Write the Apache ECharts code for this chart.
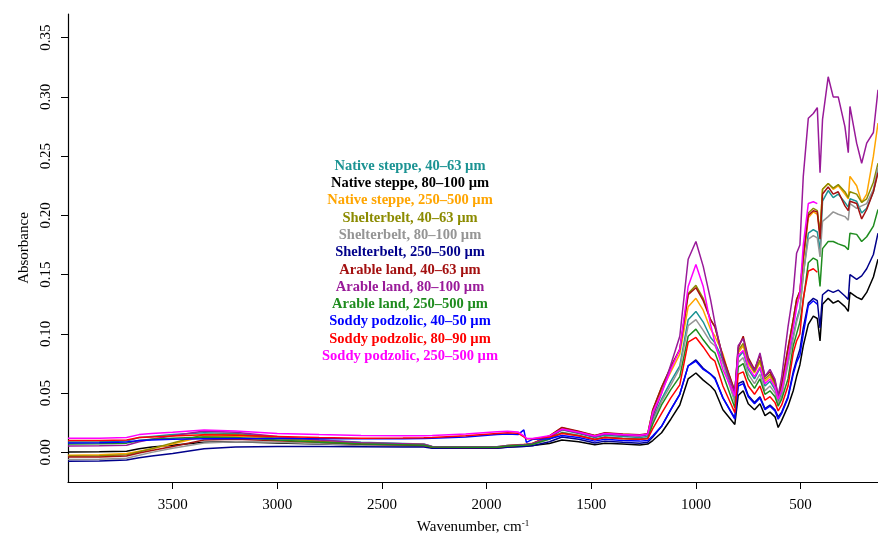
<!DOCTYPE html>
<html>
<head>
<meta charset="utf-8">
<script src="https://cdn.jsdelivr.net/npm/echarts@6/dist/echarts.min.js"></script>
<style>
  html, body { margin: 0; padding: 0; background: #fff; }
  #chart { width: 878px; height: 540px; }
</style>
</head>
<body>
<div id="chart"></div>
<script>
// Shared wavenumber grid (cm-1), high to low
const wavenumbers = [
  4000, 3850, 3720, 3660, 3600, 3500, 3350, 3200, 3000, 2800, 2600, 2400, 2300, 2260, 2100,
  1950, 1900, 1850, 1822, 1810, 1780, 1700, 1640, 1560, 1483, 1435, 1350, 1268, 1230,
  1206, 1164, 1120, 1077, 1037, 1000, 965, 930, 909, 871, 814, 798, 774, 750,
  720, 694, 670, 646, 622, 607, 590, 560, 535, 519, 503, 487, 463, 439, 420,
  407, 395, 368, 344, 320, 288, 272, 264, 232, 208, 184, 152, 130
];

// Absorbance per sample (soddy podzolic spectra stop at 420 cm-1)
const nativeSteppe40 = [
  0.0088, 0.0090, 0.0095, 0.0125, 0.0135, 0.0150, 0.0166, 0.0160, 0.0130, 0.0105, 0.0085, 0.0075, 0.0070, 0.0050, 0.0048,
  0.0048, 0.0058, 0.0062, 0.0064, 0.0066, 0.0072, 0.0120, 0.0190, 0.0160, 0.0125, 0.0145, 0.0135, 0.0125, 0.0135,
  0.028, 0.045, 0.060, 0.073, 0.112, 0.119, 0.110, 0.097, 0.0925, 0.078, 0.044, 0.080, 0.085, 0.070,
  0.062, 0.071, 0.056, 0.060, 0.053, 0.043, 0.050, 0.078, 0.098, 0.112, 0.122, 0.150, 0.185, 0.188, 0.186,
  0.170, 0.212, 0.221, 0.215, 0.218, 0.211, 0.207, 0.214, 0.212, 0.202, 0.206, 0.220, 0.238
];
const nativeSteppe80 = [
  0.0003, 0.0005, 0.0010, 0.0030, 0.0045, 0.0060, 0.0085, 0.0090, 0.0080, 0.0070, 0.0062, 0.0058, 0.0055, 0.0038, 0.0036,
  0.0036, 0.0046, 0.0050, 0.0052, 0.0053, 0.0058, 0.0075, 0.0104, 0.0090, 0.0065, 0.0078, 0.0070, 0.0062, 0.0070,
  0.010, 0.0166, 0.028, 0.040, 0.062, 0.067, 0.061, 0.056, 0.052, 0.036, 0.0236, 0.048, 0.052, 0.041,
  0.036, 0.041, 0.031, 0.034, 0.030, 0.021, 0.027, 0.039, 0.052, 0.064, 0.074, 0.090, 0.108, 0.115, 0.113,
  0.094, 0.125, 0.130, 0.126, 0.128, 0.123, 0.119, 0.135, 0.131, 0.129, 0.135, 0.148, 0.163
];
const nativeSteppe250 = [
  -0.0025, -0.0020, -0.0010, 0.0010, 0.0030, 0.0070, 0.0135, 0.0138, 0.0115, 0.0095, 0.0078, 0.0070, 0.0066, 0.0048, 0.0046,
  0.0046, 0.0058, 0.0065, 0.0068, 0.0070, 0.0078, 0.0135, 0.0208, 0.0175, 0.0140, 0.0162, 0.0152, 0.0145, 0.0155,
  0.033, 0.052, 0.068, 0.083, 0.123, 0.130, 0.120, 0.104, 0.098, 0.083, 0.048, 0.084, 0.090, 0.075,
  0.067, 0.076, 0.060, 0.064, 0.056, 0.045, 0.054, 0.085, 0.108, 0.125, 0.132, 0.160, 0.198, 0.203, 0.201,
  0.185, 0.222, 0.227, 0.222, 0.225, 0.218, 0.214, 0.233, 0.225, 0.211, 0.218, 0.250, 0.278
];
const shelterbelt40 = [
  -0.0030, -0.0028, -0.0020, 0.0005, 0.0030, 0.0080, 0.0150, 0.0150, 0.0120, 0.0095, 0.0075, 0.0068, 0.0064, 0.0046, 0.0044,
  0.0044, 0.0056, 0.0062, 0.0065, 0.0067, 0.0075, 0.0135, 0.0205, 0.0172, 0.0140, 0.0160, 0.0150, 0.0143, 0.0155,
  0.036, 0.055, 0.072, 0.087, 0.134, 0.141, 0.130, 0.112, 0.106, 0.080, 0.0515, 0.086, 0.092, 0.077,
  0.068, 0.078, 0.062, 0.066, 0.058, 0.046, 0.056, 0.088, 0.112, 0.129, 0.136, 0.165, 0.202, 0.206, 0.204,
  0.185, 0.222, 0.227, 0.223, 0.226, 0.220, 0.215, 0.220, 0.218, 0.211, 0.214, 0.228, 0.244
];
const shelterbelt80 = [
  -0.0060, -0.0058, -0.0050, -0.0025, 0.0000, 0.0035, 0.0080, 0.0090, 0.0085, 0.0072, 0.0060, 0.0056, 0.0053, 0.0040, 0.0040,
  0.0040, 0.0050, 0.0056, 0.0058, 0.0060, 0.0066, 0.0110, 0.0170, 0.0145, 0.0110, 0.0130, 0.0120, 0.0112, 0.0122,
  0.026, 0.043, 0.057, 0.071, 0.107, 0.112, 0.103, 0.093, 0.090, 0.075, 0.042, 0.076, 0.080, 0.066,
  0.058, 0.066, 0.052, 0.056, 0.050, 0.041, 0.048, 0.074, 0.096, 0.110, 0.120, 0.150, 0.180, 0.183, 0.181,
  0.165, 0.195, 0.199, 0.203, 0.201, 0.199, 0.196, 0.210, 0.206, 0.208, 0.210, 0.222, 0.241
];
const shelterbelt250 = [
  -0.0075, -0.0072, -0.0065, -0.0045, -0.0030, -0.0010, 0.0030, 0.0045, 0.0050, 0.0050, 0.0048, 0.0046, 0.0045, 0.0034, 0.0034,
  0.0034, 0.0044, 0.0048, 0.0050, 0.0052, 0.0056, 0.0090, 0.0130, 0.0110, 0.0080, 0.0095, 0.0085, 0.0078, 0.0085,
  0.013, 0.022, 0.036, 0.049, 0.073, 0.078, 0.071, 0.066, 0.063, 0.046, 0.029, 0.058, 0.060, 0.048,
  0.042, 0.047, 0.037, 0.040, 0.036, 0.030, 0.034, 0.047, 0.068, 0.078, 0.087, 0.105, 0.126, 0.130, 0.128,
  0.105, 0.133, 0.137, 0.135, 0.137, 0.132, 0.129, 0.150, 0.146, 0.149, 0.155, 0.167, 0.185
];
const arable40 = [
  -0.0040, -0.0038, -0.0030, -0.0005, 0.0015, 0.0050, 0.0105, 0.0110, 0.0098, 0.0085, 0.0068, 0.0062, 0.0059, 0.0044, 0.0042,
  0.0042, 0.0054, 0.0060, 0.0063, 0.0065, 0.0074, 0.0140, 0.0210, 0.0178, 0.0143, 0.0166, 0.0155, 0.0148, 0.0158,
  0.036, 0.055, 0.072, 0.087, 0.133, 0.139, 0.128, 0.112, 0.106, 0.081, 0.0515, 0.088, 0.098, 0.080,
  0.070, 0.082, 0.064, 0.068, 0.060, 0.048, 0.058, 0.088, 0.112, 0.129, 0.136, 0.165, 0.200, 0.204, 0.203,
  0.180, 0.218, 0.224, 0.218, 0.220, 0.208, 0.204, 0.212, 0.210, 0.197, 0.205, 0.220, 0.236
];
const arable80 = [
  0.0053, 0.0055, 0.0060, 0.0090, 0.0110, 0.0140, 0.0180, 0.0170, 0.0135, 0.0105, 0.0082, 0.0073, 0.0068, 0.0050, 0.0048,
  0.0048, 0.0058, 0.0063, 0.0066, 0.0068, 0.0075, 0.0130, 0.0192, 0.0165, 0.0132, 0.0155, 0.0145, 0.0138, 0.0148,
  0.030, 0.050, 0.074, 0.098, 0.163, 0.178, 0.157, 0.129, 0.109, 0.078, 0.050, 0.090, 0.096, 0.078,
  0.069, 0.084, 0.064, 0.070, 0.0616, 0.0475, 0.064, 0.106, 0.135, 0.168, 0.175, 0.233, 0.282, 0.286, 0.291,
  0.236, 0.281, 0.317, 0.300, 0.300, 0.275, 0.253, 0.292, 0.261, 0.244, 0.261, 0.270, 0.306
];
const arable250 = [
  0.0070, 0.0072, 0.0078, 0.0100, 0.0110, 0.0120, 0.0130, 0.0125, 0.0105, 0.0085, 0.0070, 0.0064, 0.0060, 0.0045, 0.0043,
  0.0043, 0.0053, 0.0058, 0.0060, 0.0062, 0.0068, 0.0112, 0.0165, 0.0140, 0.0108, 0.0128, 0.0118, 0.0110, 0.0120,
  0.024, 0.040, 0.053, 0.064, 0.098, 0.104, 0.095, 0.087, 0.084, 0.066, 0.0377, 0.072, 0.075, 0.062,
  0.054, 0.062, 0.049, 0.052, 0.047, 0.039, 0.045, 0.062, 0.090, 0.100, 0.110, 0.128, 0.160, 0.164, 0.162,
  0.140, 0.172, 0.178, 0.178, 0.176, 0.174, 0.171, 0.185, 0.184, 0.178, 0.182, 0.191, 0.205
];
const soddy40 = [
  0.0080, 0.0082, 0.0088, 0.0100, 0.0105, 0.0110, 0.0115, 0.0118, 0.0118, 0.0116, 0.0115, 0.0116, 0.0118, 0.0120, 0.0130,
  0.0150, 0.0155, 0.0150, 0.0190, 0.0085, 0.0110, 0.0115, 0.0143, 0.0125, 0.0095, 0.0110, 0.0100, 0.0095, 0.0100,
  0.014, 0.022, 0.036, 0.049, 0.073, 0.077, 0.070, 0.066, 0.062, 0.046, 0.028, 0.056, 0.058, 0.047,
  0.041, 0.046, 0.036, 0.039, 0.035, 0.028, 0.033, 0.046, 0.066, 0.076, 0.082, 0.100, 0.124, 0.128, 0.125
];
const soddy80 = [
  0.0100, 0.0100, 0.0105, 0.0125, 0.0130, 0.0138, 0.0148, 0.0145, 0.0135, 0.0125, 0.0120, 0.0122, 0.0124, 0.0126, 0.0140,
  0.0160, 0.0166, 0.0162, 0.0130, 0.0115, 0.0115, 0.0130, 0.0160, 0.0140, 0.0108, 0.0125, 0.0115, 0.0110, 0.0115,
  0.020, 0.033, 0.046, 0.057, 0.093, 0.097, 0.089, 0.080, 0.077, 0.056, 0.0335, 0.066, 0.068, 0.056,
  0.049, 0.056, 0.044, 0.047, 0.042, 0.035, 0.040, 0.056, 0.084, 0.094, 0.100, 0.130, 0.153, 0.155, 0.152
];
const soddy250 = [
  0.0120, 0.0120, 0.0125, 0.0150, 0.0160, 0.0170, 0.0188, 0.0180, 0.0160, 0.0150, 0.0143, 0.0140, 0.0140, 0.0142, 0.0155,
  0.0175, 0.0178, 0.0172, 0.0140, 0.0120, 0.0118, 0.0140, 0.0197, 0.0170, 0.0138, 0.0160, 0.0150, 0.0145, 0.0155,
  0.034, 0.050, 0.070, 0.087, 0.140, 0.1585, 0.140, 0.108, 0.0925, 0.070, 0.0475, 0.082, 0.086, 0.072,
  0.064, 0.072, 0.058, 0.062, 0.055, 0.045, 0.052, 0.080, 0.105, 0.122, 0.135, 0.175, 0.210, 0.2115, 0.210
];

const sampleNames = [
  'Native steppe, 40\u201363 \u00b5m', 'Native steppe, 80\u2013100 \u00b5m', 'Native steppe, 250\u2013500 \u00b5m',
  'Shelterbelt, 40\u201363 \u00b5m', 'Shelterbelt, 80\u2013100 \u00b5m', 'Shelterbelt, 250\u2013500 \u00b5m',
  'Arable land, 40\u201363 \u00b5m', 'Arable land, 80\u2013100 \u00b5m', 'Arable land, 250\u2013500 \u00b5m',
  'Soddy podzolic, 40\u201350 \u00b5m', 'Soddy podzolic, 80\u201390 \u00b5m', 'Soddy podzolic, 250\u2013500 \u00b5m'
];
const sampleValues = [
  nativeSteppe40, nativeSteppe80, nativeSteppe250,
  shelterbelt40, shelterbelt80, shelterbelt250,
  arable40, arable80, arable250,
  soddy40, soddy80, soddy250
];
const sampleColors = [
  '#1b9393', '#000000', '#FFA500',
  '#8B8B00', '#959595', '#00008B',
  '#A31010', '#991A99', '#1E8C1E',
  '#0000FF', '#FF0000', '#FF00FF'
];
const xTicks = [500, 1000, 1500, 2000, 2500, 3000, 3500];
const yTicks = [0, 0.05, 0.10, 0.15, 0.20, 0.25, 0.30, 0.35];

const FONT = 'Liberation Serif';

const series = sampleValues.map((vals, i) => ({
  name: sampleNames[i],
  type: 'line',
  showSymbol: false,
  symbol: 'none',
  silent: true,
  lineStyle: { width: 1.5, color: sampleColors[i] },
  itemStyle: { color: sampleColors[i] },
  data: vals.map((v, k) => [wavenumbers[k], v])
}));

// Colored key, one centered line per sample
const keyTop = 166, keyStep = 17.3, keyX = 410;
const keyText = sampleNames.map((name, i) => ({
  type: 'text',
  x: keyX,
  y: keyTop + i * keyStep,
  silent: true,
  style: {
    text: name,
    fill: sampleColors[i],
    font: 'bold 14.5px "' + FONT + '"',
    align: 'center',
    verticalAlign: 'middle'
  }
}));

const chart = echarts.init(document.getElementById('chart'), null, { renderer: 'canvas' });
chart.setOption({
  animation: false,
  backgroundColor: '#ffffff',
  grid: { left: 68, right: 0, top: 14, bottom: 56, containLabel: false },
  xAxis: {
    type: 'value',
    inverse: true,
    min: 130,
    max: 4000,
    name: 'Wavenumber, cm{sup|-1}',
    nameLocation: 'middle',
    nameGap: 37,
    nameTextStyle: {
      fontFamily: FONT, fontSize: 15, color: '#000',
      rich: { sup: { fontFamily: FONT, fontSize: 9, color: '#000', verticalAlign: 'top', padding: [0, 0, 8, 0] } }
    },
    axisLine: { show: true, onZero: false, lineStyle: { color: '#000', width: 1.2 } },
    axisTick: { show: true, length: 7, customValues: xTicks, lineStyle: { color: '#000', width: 1 } },
    axisLabel: {
      customValues: xTicks,
      margin: 16,
      fontFamily: FONT, fontSize: 15, color: '#000',
      formatter: v => String(v)
    },
    splitLine: { show: false }
  },
  yAxis: {
    type: 'value',
    min: -0.025,
    max: 0.37,
    name: 'Absorbance',
    nameLocation: 'middle',
    nameGap: 36,
    nameTextStyle: { fontFamily: FONT, fontSize: 15, color: '#000' },
    axisLine: { show: true, onZero: false, lineStyle: { color: '#000', width: 1.2 } },
    axisTick: { show: true, length: 7, customValues: yTicks, lineStyle: { color: '#000', width: 1 } },
    axisLabel: {
      customValues: yTicks,
      rotate: 90,
      margin: 14,
      fontFamily: FONT, fontSize: 15, color: '#000',
      formatter: v => v.toFixed(2)
    },
    splitLine: { show: false }
  },
  graphic: keyText,
  series: series
});
</script>
</body>
</html>
